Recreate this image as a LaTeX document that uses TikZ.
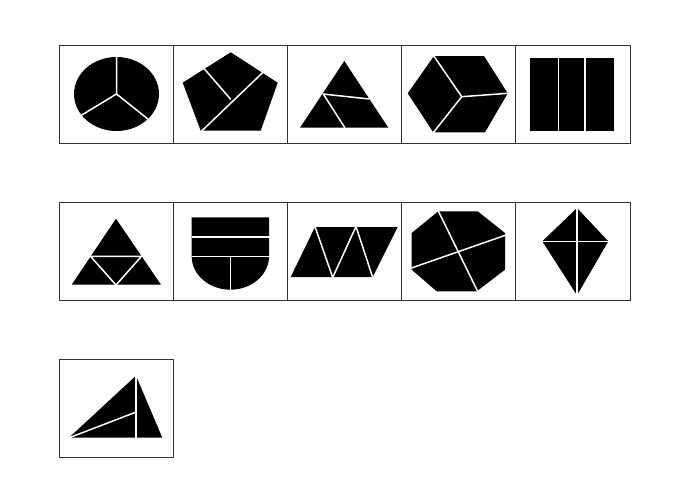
\documentclass[tikz,border=0pt]{standalone}
\usepackage{tikz}
\begin{document}
\begin{tikzpicture}[x=1pt,y=-1pt,
  cell/.style={draw=black!80,line width=1pt},
  piece/.style={fill=black},
  cut/.style={draw=white,line width=1.5pt}]
  \useasboundingbox[fill=white] (0,0) rectangle (679,482);
  % frames
  \foreach \i in {0,...,4} {
    \draw[cell] (59+114.2*\i,45) rectangle ++(114.2,98);
    \draw[cell] (59+114.2*\i,202) rectangle ++(114.2,98);
  }
  \draw[cell] (59,359) rectangle ++(114.2,98);
  % row 1: ellipse
  \fill[piece] (116.5,94) ellipse [x radius=42.5pt,y radius=37pt];
  \coordinate (e0) at (116.5,94);
  \draw[cut] (e0) -- (116.5,56) (e0) -- (81,115.5) (e0) -- (148.5,119.5);
  % pentagon
  \fill[piece] (230.7,52.3) -- (277.7,82.7) -- (260.7,130.7) -- (200.7,130.7) -- (182.7,82.7) -- cycle;
  \draw[cut] (201.7,131) -- (263.5,71.8);
  \draw[cut] (204,68.5) -- (230.7,99.3);
  % triangle
  \fill[piece] (344.3,61) -- (388.3,127.7) -- (300,127.7) -- cycle;
  \draw[cut] (322.7,94) -- (369.5,99);
  \draw[cut] (323.5,94.3) -- (345,128);
  % cube
  \fill[piece] (434,56) -- (484,56) -- (507.7,93.3) -- (485,132.3) -- (433.3,132.3) -- (407.7,93.3) -- cycle;
  \coordinate (c0) at (461.7,96.7);
  \draw[cut] (c0) -- (433.5,55.5) (c0) -- (508,93.3) (c0) -- (433,133);
  % bars
  \fill[piece] (530,58.3) rectangle (614,130.7);
  \draw[cut] (558.3,58) -- (558.3,131) (585,58) -- (585,131);
  % row 2: triangle
  \fill[piece] (116,218.7) -- (161,284.7) -- (71.7,284.7) -- cycle;
  \draw[cut] (90.5,256.3) -- (141.5,256.3) -- (116,285) -- cycle;
  % shield
  \fill[piece] (191.7,217.3) -- (269,217.3) -- (269,256.3)
    arc[start angle=0,end angle=-180,x radius=38.65pt,y radius=33.4pt] -- cycle;
  \draw[cut] (191.5,237) -- (269.5,237) (191.5,256.3) -- (269.5,256.3);
  \draw[cut] (230.3,256.3) -- (230.3,290);
  % parallelogram
  \fill[piece] (315,227) -- (397.7,227) -- (372.7,277) -- (290.7,277) -- cycle;
  \draw[cut] (315,226.5) -- (332.7,277.5) -- (356,226.5) -- (372.7,277.5);
  % octagon
  \fill[piece] (438.3,211.3) -- (477.7,211.3) -- (505,233) -- (505,269.7) -- (476.7,291.3)
    -- (436.7,291.3) -- (411.7,269.7) -- (411.7,233) -- cycle;
  \draw[cut] (438.3,211) -- (477.7,291.5);
  \draw[cut] (411.5,268) -- (505.3,235.3);
  % kite
  \fill[piece] (577,208) -- (608.3,241.3) -- (577,295.3) -- (542.3,241.3) -- cycle;
  \draw[cut] (577,207.5) -- (577,296) (542,241.3) -- (608.6,241.3);
  % row 3: triangle
  \fill[piece] (136,375.7) -- (162.3,437.7) -- (69,437.7) -- cycle;
  \draw[cut] (136,375) -- (136,438);
  \draw[cut] (68.5,438) -- (135.5,412.3);
\end{tikzpicture}
\end{document}
